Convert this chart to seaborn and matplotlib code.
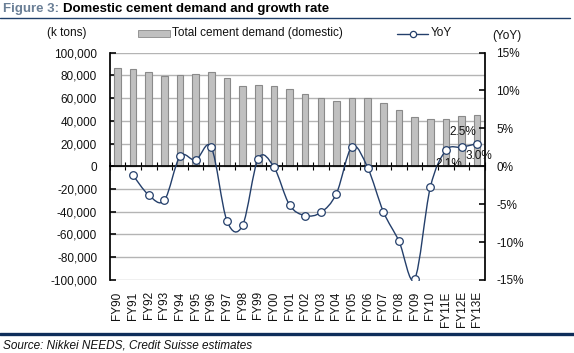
import numpy as np
import pandas as pd
import matplotlib
matplotlib.use("Agg")
import matplotlib.pyplot as plt
import seaborn as sns
from matplotlib.path import Path
from matplotlib.patches import PathPatch, Rectangle
from matplotlib.lines import Line2D

# data
years = ["FY90", "FY91", "FY92", "FY93", "FY94", "FY95", "FY96", "FY97", "FY98",
         "FY99", "FY00", "FY01", "FY02", "FY03", "FY04", "FY05", "FY06", "FY07",
         "FY08", "FY09", "FY10", "FY11E", "FY12E", "FY13E"]
demand = [86300, 85400, 82700, 79200, 80100, 81000, 82700, 77500, 70500,
          71300, 70500, 67800, 63500, 59900, 57300, 59900, 59900, 55600,
          49400, 43300, 41500, 41500, 44200, 45000]
yoy_years = years[1:]
yoy = [-1.2, -3.8, -4.5, 1.3, 0.8, 2.5, -7.2, -7.8, 1.0, -0.1, -5.1, -6.5,
       -6.1, -3.6, 2.6, -0.2, -6.0, -9.9, -14.9, -2.8, 2.1, 2.5, 3.0]
left_ticks = [-100000, -80000, -60000, -40000, -20000, 0, 20000, 40000, 60000, 80000, 100000]
right_ticks = [-15, -10, -5, 0, 5, 10, 15]
labelled = {"FY11E": "2.1%", "FY12E": "2.5%", "FY13E": "3.0%"}

sns.set_theme(style="white")
plt.rcParams["font.family"] = ["Liberation Sans", "DejaVu Sans"]

navy = "#243f6b"
txt = "#111111"

fig = plt.figure(figsize=(5.74, 3.53), dpi=100)
ax = fig.add_axes([0.191, 0.207, 0.654, 0.644])

df = pd.DataFrame({"year": years, "demand": demand})
sns.barplot(data=df, x="year", y="demand", ax=ax, color="#c0c0c0",
            edgecolor="#8a8a8a", linewidth=0.8, width=0.42, saturation=1, zorder=2)
ax.set_xlim(-0.5, len(years) - 0.5)
ax.set_ylim(-100000, 100000)
ax.set_yticks(left_ticks)
ax.set_yticklabels([f"{v:,}" for v in left_ticks], fontsize=8.5, color=txt)
ax.yaxis.grid(True, color="#b4b4b4", linewidth=1, zorder=0)
ax.set_xlabel("")
ax.set_ylabel("")
ax.spines["top"].set_visible(False)
ax.spines["right"].set_visible(False)
ax.spines["left"].set_color("black")
ax.spines["bottom"].set_color("black")
ax.spines["bottom"].set_position(("data", 0))
ax.spines["bottom"].set_zorder(3)
ax.tick_params(axis="y", direction="in", length=4, pad=9, colors=txt, left=True)
ax.set_xticks(range(len(years)))
ax.set_xticklabels(years, rotation=90, fontsize=8.5, color=txt, va="top")
ax.tick_params(axis="x", which="major", length=0, pad=90)
ax.set_xticks(np.arange(-0.5, len(years), 1), minor=True)
ax.tick_params(axis="x", which="minor", direction="inout", length=6, width=0.8,
               bottom=True, color="black")

# yoy on secondary axis, smooth line like the original
ax2 = ax.twinx()
xs = np.array([years.index(y) for y in yoy_years], dtype=float)
ys = np.array(yoy, dtype=float)
verts = [(xs[0], ys[0])]
codes = [Path.MOVETO]
n = len(xs)
for i in range(n - 1):
    a = i - 1 if i > 0 else i
    d = i + 2 if i + 2 < n else i + 1
    c1 = (xs[i] + (xs[i + 1] - xs[a]) / 6, ys[i] + (ys[i + 1] - ys[a]) / 6)
    c2 = (xs[i + 1] - (xs[d] - xs[i]) / 6, ys[i + 1] - (ys[d] - ys[i]) / 6)
    verts += [c1, c2, (xs[i + 1], ys[i + 1])]
    codes += [Path.CURVE4] * 3
ax2.add_patch(PathPatch(Path(verts, codes), facecolor="none", edgecolor=navy,
                        linewidth=1.0, zorder=3))
sns.scatterplot(x=xs, y=ys, ax=ax2, s=30, color="white", edgecolor=navy,
                linewidth=0.9, zorder=4, legend=False)
ax2.set_xlim(-0.5, len(years) - 0.5)
ax2.set_ylim(-15, 15)
ax2.set_yticks(right_ticks)
ax2.set_yticklabels([f"{v}%" for v in right_ticks], fontsize=8.5, color=txt)
ax2.tick_params(axis="y", direction="in", length=4, pad=8, colors=txt, right=True)
for s in ["top", "bottom", "left"]:
    ax2.spines[s].set_visible(False)
ax2.spines["right"].set_color("black")
ax2.grid(False)

offsets = {"FY11E": (2, -10), "FY12E": (1, 11), "FY13E": (1, -9)}
for yr, lab in labelled.items():
    j = yoy_years.index(yr)
    ax2.annotate(lab, (xs[j], ys[j]), xytext=offsets[yr], textcoords="offset points",
                 ha="center", va="center", fontsize=8.5, color=txt, zorder=5)

# legend and axis captions
fig.text(67 / 574, 1 - 33 / 353, "(k tons)", fontsize=8.5, ha="center", va="center", color=txt)
fig.text(507 / 574, 1 - 36 / 353, "(YoY)", fontsize=8.5, ha="center", va="center", color=txt)
fig.patches.append(Rectangle((138 / 574, 1 - 37 / 353), 32 / 574, 7 / 353,
                             transform=fig.transFigure, facecolor="#c0c0c0",
                             edgecolor="#8a8a8a", linewidth=0.6))
fig.text(172 / 574, 1 - 33 / 353, "Total cement demand (domestic)", fontsize=8.5,
         va="center", color=txt)
fig.lines.append(Line2D([397 / 574, 428 / 574], [1 - 34 / 353] * 2, transform=fig.transFigure,
                        color=navy, linewidth=1.0))
fig.lines.append(Line2D([412.5 / 574], [1 - 34 / 353], transform=fig.transFigure, marker="o",
                        markersize=4.5, markerfacecolor="white", markeredgecolor=navy,
                        markeredgewidth=0.9, linestyle="none"))
fig.text(431 / 574, 1 - 33 / 353, "YoY", fontsize=8.5, va="center", color=txt)

# title, rules and source
t1 = fig.text(3 / 574, 1 - 9 / 353, "Figure 3:", fontsize=9.5, fontweight="bold",
              color="#6a7f96", va="center")
fig.canvas.draw()
x_end = t1.get_window_extent().x1 / fig.bbox.width
fig.text(x_end + 4 / 574, 1 - 9 / 353, "Domestic cement demand and growth rate", fontsize=9.5,
         fontweight="bold", color="black", va="center")
fig.lines.append(Line2D([0, 570 / 574], [1 - 17.5 / 353] * 2, transform=fig.transFigure,
                        color="#1f3f6a", linewidth=1.0))
fig.lines.append(Line2D([0, 1], [1 - 333.5 / 353] * 2, transform=fig.transFigure,
                        color="#0e2d5a", linewidth=2.4))
fig.text(3 / 574, 1 - 345 / 353, "Source: Nikkei NEEDS, Credit Suisse estimates", fontsize=8.5,
         style="italic", color=txt, va="center")

fig.savefig("out.png", dpi=100)
